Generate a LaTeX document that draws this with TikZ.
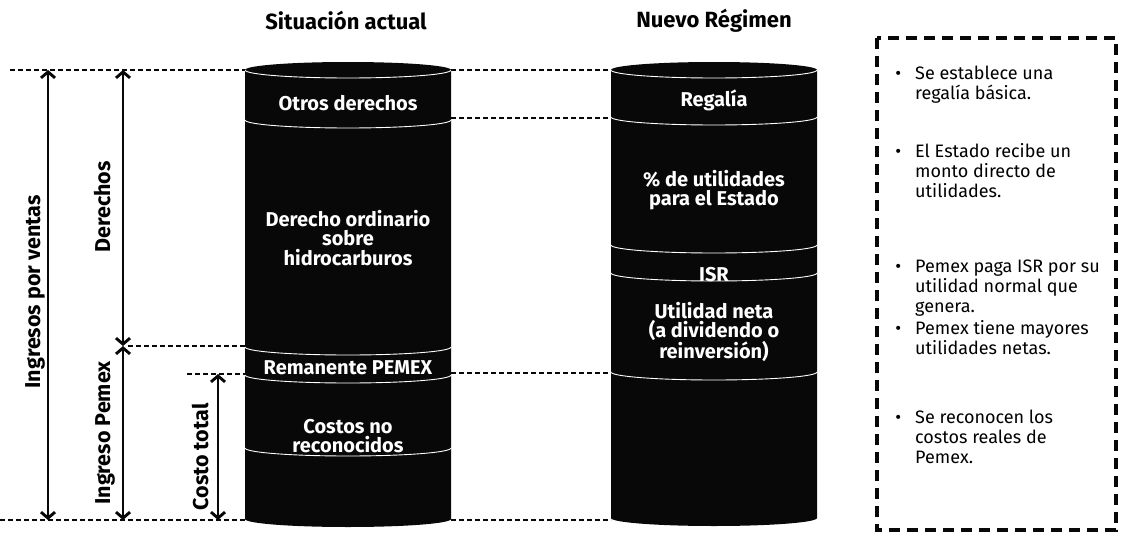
\documentclass[tikz,border=0pt]{standalone}
\usepackage{fontspec}
\setmainfont{Fira Sans}
\usetikzlibrary{positioning, calc, arrows.meta}
\definecolor{inkblack}{RGB}{8,8,8}

\tikzset{
  guide/.style={inkblack, line width=1.3pt, dash pattern=on 5pt off 3pt},
  span/.style={inkblack, line width=2.9pt, {Straight Barb[length=6pt,width=14pt]}-{Straight Barb[length=6pt,width=14pt]}},
  seam/.style={white, line width=0.9pt},
  layer/.style={white, font=\fontsize{20}{19.5}\selectfont\bfseries, align=center},
  sidelabel/.style={rotate=90, anchor=base, font=\fontsize{21.5}{24}\selectfont\bfseries},
  heading/.style={font=\fontsize{22}{24}\selectfont\bfseries},
  notebox/.style={inkblack, line width=3.4pt, dash pattern=on 11pt off 7pt},
  note/.style={anchor=north west, inner sep=0pt, align=left, font=\fontsize{18}{20}\selectfont},
}

\begin{document}
\begin{tikzpicture}[x=1pt, y=-1pt]
  \useasboundingbox (0,0) rectangle (1124,535);

  % cylinders
  \fill[inkblack] (245,70) -- (245,519) arc[start angle=180, end angle=360, x radius=103pt, y radius=8pt]
    -- (451,70) arc[start angle=0, end angle=180, x radius=103pt, y radius=8pt] -- cycle;
  \foreach \y in {70,120,347,375,448}
    \draw[seam] (245,\y) arc[start angle=180, end angle=360, x radius=103pt, y radius=8pt];
  \fill[inkblack] (611,70) -- (611,518) arc[start angle=180, end angle=360, x radius=103pt, y radius=8pt]
    -- (817,70) arc[start angle=0, end angle=180, x radius=103pt, y radius=8pt] -- cycle;
  \foreach \y in {70,117,245,273,372}
    \draw[seam] (611,\y) arc[start angle=180, end angle=360, x radius=103pt, y radius=8pt];

  \node[heading] (sit) at (346,21) {Situación actual};
  \node[heading] (nue) at (714,21) {Nuevo Régimen};

  \node[layer] (otros) at (348,103) {Otros derechos};
  \node[layer] (ordin) at (348,238) {Derecho ordinario\\sobre\\hidrocarburos};
  \node[layer] (reman) at (348,368) {Remanente PEMEX};
  \node[layer] (costos) at (348,436) {Costos no\\reconocidos};
  \node[layer] (regal) at (714,100) {Regalía};
  \node[layer] (util) at (714,190) {\% de utilidades\\para el Estado};
  \node[layer] (isr) at (714,275) {ISR};
  \node[layer] (neta) at (714,332) {Utilidad neta\\(a dividendo o\\reinversión)};

  % guide ends
  \coordinate (lim-top) at (10,70);
  \coordinate (lim-bot) at (0,520);
  \coordinate (lim-der) at (128,346);
  \coordinate (lim-cos) at (187,374);
  \coordinate (sa-top-w) at (245,70);
  \coordinate (sa-top-e) at (451,70);
  \coordinate (sa-od-e) at (451,118);
  \coordinate (sa-rem-w) at (245,346);
  \coordinate (sa-cos-w) at (245,374);
  \coordinate (sa-cos-e) at (451,373);
  \coordinate (sa-bot-w) at (245,520);
  \coordinate (sa-bot-e) at (451,520);
  \coordinate (nr-top-w) at (611,70);
  \coordinate (nr-reg-w) at (611,118);
  \coordinate (nr-un-w) at (611,373);
  \coordinate (nr-bot-w) at (611,520);

  \draw[guide] (lim-top) -- (sa-top-w);
  \draw[guide] (lim-der) -- (sa-rem-w);
  \draw[guide] (lim-cos) -- (sa-cos-w);
  \draw[guide] (lim-bot) -- (sa-bot-w);
  \draw[guide] (sa-top-e) -- (nr-top-w);
  \draw[guide] (sa-od-e) -- (nr-reg-w);
  \draw[guide] (sa-cos-e) -- (nr-un-w);
  \draw[guide] (sa-bot-e) -- (nr-bot-w);

  % spans
  \coordinate (ing-a) at (48,70);
  \coordinate (ing-b) at (48,520);
  \coordinate (der-a) at (123,70);
  \coordinate (der-b) at (123,346);
  \coordinate (pem-b) at (123,520);
  \coordinate (cos-a) at (218,374);
  \coordinate (cos-b) at (218,520);
  \draw[span] (ing-a) -- (ing-b);
  \draw[span] (der-a) -- (der-b);
  \draw[span] (der-b) -- (pem-b);
  \draw[span] (cos-a) -- (cos-b);

  \node[sidelabel] (ingl) at (40,292) {Ingresos por ventas};
  \node[sidelabel] (derl) at (110,207) {Derechos};
  \node[sidelabel] (peml) at (110,433) {Ingreso Pemex};
  \node[sidelabel] (cosl) at (208,457) {Costo total};

  % notes
  \coordinate (box-nw) at (877,38);
  \coordinate (box-se) at (1116,530);
  \draw[notebox] (box-nw) rectangle (box-se);
  \node[note] (n1) at (915,66) {\llap{•\hspace{14pt}}Se establece una\\regalía básica.};
  \node[note] (n2) at (915,143) {\llap{•\hspace{14pt}}El Estado recibe un\\monto directo de\\utilidades.};
  \node[note] (n3) at (915,260) {\llap{•\hspace{14pt}}Pemex paga ISR por su\\utilidad normal que\\genera.};
  \node[note] (n4) at (915,320) {\llap{•\hspace{14pt}}Pemex tiene mayores\\utilidades netas.};
  \node[note] (n5) at (915,410) {\llap{•\hspace{14pt}}Se reconocen los\\costos reales de\\Pemex.};
\end{tikzpicture}
\end{document}
